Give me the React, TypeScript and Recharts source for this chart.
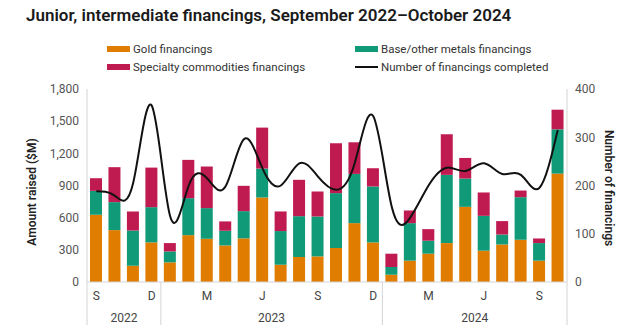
import React from "react";
import { ComposedChart, Bar, Line, XAxis, YAxis } from "recharts";

// Sep 2022 - Oct 2024, monthly
const months = ["S", "O", "N", "D", "J", "F", "M", "A", "M", "J", "J", "A", "S", "O", "N", "D", "J", "F", "M", "A", "M", "J", "J", "A", "S", "O"];
const years = ["2022", "2022", "2022", "2022", "2023", "2023", "2023", "2023", "2023", "2023", "2023", "2023", "2023", "2023", "2023", "2023", "2024", "2024", "2024", "2024", "2024", "2024", "2024", "2024", "2024", "2024"];

// amounts raised ($M)
const gold = [627, 484, 152, 369, 183, 437, 403, 341, 407, 788, 161, 233, 239, 317, 549, 369, 68, 199, 264, 363, 701, 292, 350, 394, 199, 1011];
const baseMetals = [223, 261, 329, 329, 102, 345, 286, 137, 254, 270, 314, 381, 372, 512, 459, 522, 72, 350, 121, 636, 264, 325, 93, 397, 164, 413];
const specialty = [118, 326, 177, 369, 78, 357, 388, 87, 236, 382, 183, 339, 233, 465, 295, 170, 124, 118, 108, 379, 192, 218, 125, 62, 43, 183];

// number of financings completed
const financings = [188, 179, 205, 366, 137, 199, 215, 198, 296, 236, 200, 246, 219, 191, 246, 344, 157, 133, 200, 237, 230, 246, 224, 222, 195, 315];

const leftTicks = [0, 300, 600, 900, 1200, 1500, 1800];
const rightTicks = [0, 100, 200, 300, 400];
const shownMonths = ["S", "D", "M", "J"];

const GOLD = "#E07C00";
const GREEN = "#119A78";
const RED = "#C01B50";
const AXIS = "#D4D4D4";
const FONT = "Roboto, 'Liberation Sans', Arial, sans-serif";

const W = 628;
const H = 331;
const margin = { top: 89, right: 11, bottom: 0, left: 27 };
const LEFT_W = 60;
const RIGHT_W = 50;
const PLOT_W = W - margin.left - margin.right - LEFT_W - RIGHT_W;

const data = months.map((m, i) => ({
  key: i,
  month: m,
  year: years[i],
  gold: gold[i],
  base: baseMetals[i],
  specialty: specialty[i],
  count: financings[i],
}));

function MonthTick(props: any) {
  const { x, y, index } = props;
  const band = PLOT_W / data.length;
  const d = data[index];
  const first = index === 0 || years[index - 1] !== d.year;
  const last = index === data.length - 1;
  const span = years.filter((yr) => yr === d.year).length;
  const left = x - band / 2;
  return (
    <g>
      {index % 3 === 0 && shownMonths.includes(d.month) && (
        <text x={x} y={y + 18} textAnchor="middle" fontSize={12} fill="#444" fontFamily={FONT}>
          {d.month}
        </text>
      )}
      {first && (
        <>
          <line x1={left} x2={left} y1={y} y2={y + 43} stroke={AXIS} />
          <text x={left + (span * band) / 2} y={y + 40} textAnchor="middle" fontSize={12} fill="#444" fontFamily={FONT}>
            {d.year}
          </text>
        </>
      )}
      {last && <line x1={x + band / 2} x2={x + band / 2} y1={y} y2={y + 43} stroke={AXIS} />}
    </g>
  );
}

const legendItems = [
  { label: "Gold financings", color: GOLD, line: false },
  { label: "Base/other metals financings", color: GREEN, line: false },
  { label: "Specialty commodities financings", color: RED, line: false },
  { label: "Number of financings completed", color: "#111", line: true },
];

export default function App() {
  return (
    <div style={{ position: "absolute", left: 0, top: 0, width: W, height: H, background: "#fff", fontFamily: FONT }}>
      <div style={{ position: "absolute", left: 26, top: 5, fontSize: 17, fontWeight: 600, color: "#1a1a1a", whiteSpace: "nowrap" }}>
        Junior, intermediate financings, September 2022–October 2024
      </div>
      {legendItems.map((it, i) => (
        <div
          key={it.label}
          style={{
            position: "absolute",
            left: i % 2 === 0 ? 107 : 355,
            top: i < 2 ? 41 : 59,
            height: 16,
            display: "flex",
            alignItems: "center",
            fontSize: 11.5,
            color: "#333",
            whiteSpace: "nowrap",
          }}
        >
          <span
            style={{
              display: "inline-block",
              width: 23,
              height: it.line ? 2 : 6,
              background: it.color,
              marginRight: 3,
            }}
          />
          {it.label}
        </div>
      ))}
      <div
        style={{
          position: "absolute",
          left: 32,
          top: 192,
          transform: "translate(-50%, -50%) rotate(-90deg)",
          fontSize: 12,
          fontWeight: 600,
          color: "#222",
          whiteSpace: "nowrap",
        }}
      >
        Amount raised ($M)
      </div>
      <div
        style={{
          position: "absolute",
          left: 609,
          top: 188,
          transform: "translate(-50%, -50%) rotate(90deg)",
          fontSize: 12,
          fontWeight: 600,
          color: "#222",
          whiteSpace: "nowrap",
        }}
      >
        Number of financings
      </div>
      <ComposedChart width={W} height={H} data={data} margin={margin} barSize={12} style={{ position: "absolute", left: 0, top: 0 }}>
        <XAxis
          dataKey="key"
          interval={0}
          height={49}
          tickSize={0}
          tickMargin={0}
          stroke={AXIS}
          tick={<MonthTick />}
        />
        <YAxis
          yAxisId="left"
          width={LEFT_W}
          domain={[0, 1800]}
          ticks={leftTicks}
          tickLine={false}
          stroke={AXIS}
          tick={{ fill: "#555", fontSize: 12, fontFamily: FONT }}
          tickFormatter={(v: number) => v.toLocaleString("en-US")}
        />
        <YAxis
          yAxisId="right"
          orientation="right"
          width={RIGHT_W}
          domain={[0, 400]}
          ticks={rightTicks}
          tickLine={false}
          stroke={AXIS}
          tick={{ fill: "#555", fontSize: 12, fontFamily: FONT }}
        />
        <Bar yAxisId="left" dataKey="gold" stackId="a" fill={GOLD} isAnimationActive={false} />
        <Bar yAxisId="left" dataKey="base" stackId="a" fill={GREEN} isAnimationActive={false} />
        <Bar yAxisId="left" dataKey="specialty" stackId="a" fill={RED} isAnimationActive={false} />
        <Line
          yAxisId="right"
          dataKey="count"
          type="natural"
          stroke="#111"
          strokeWidth={2}
          dot={false}
          isAnimationActive={false}
        />
      </ComposedChart>
    </div>
  );
}
